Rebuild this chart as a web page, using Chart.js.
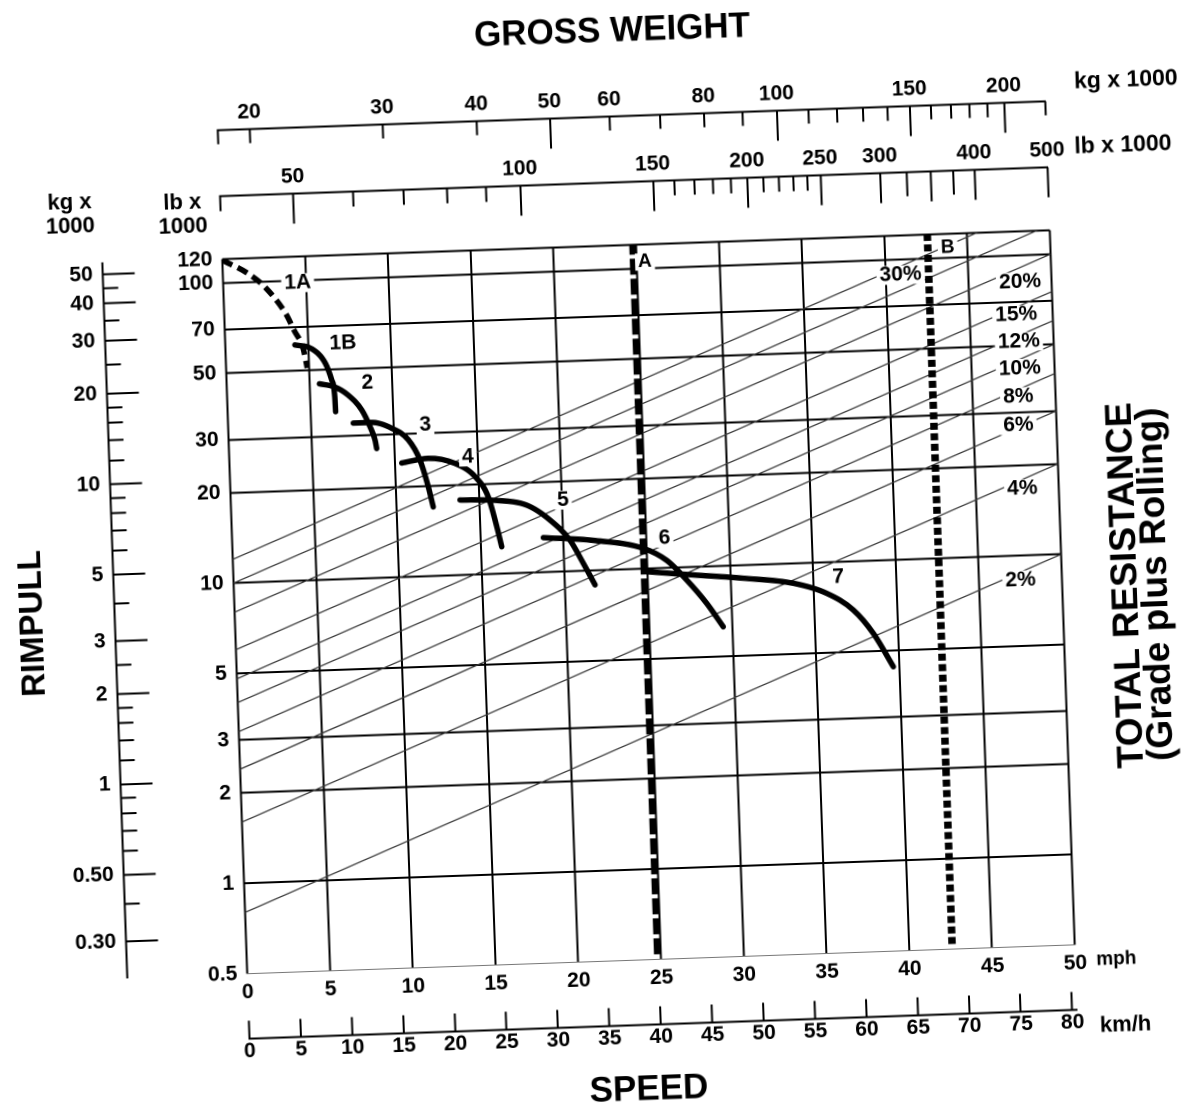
<!DOCTYPE html>
<html><head><meta charset="utf-8">
<script src="https://cdn.jsdelivr.net/npm/chart.js@4/dist/chart.umd.min.js"></script>
<style>
html,body{margin:0;padding:0;background:#fff;overflow:hidden;width:1185px;height:1113px;}
#wrap{position:absolute;left:-40px;top:-40px;width:1280px;height:1200px;transform-origin:688.5px 642px;transform:rotate(-2deg);background:#fff;}
canvas{display:block;}
</style></head><body>
<div id="wrap"><canvas id="c" width="1280" height="1200" style="width:1280px;height:1200px"></canvas></div>
<script>
// ---------- data ----------
const KG_PER_LB = 0.45359237;
const KMH_PER_MPH = 1.609344;

const speedMinMph = 0, speedMaxMph = 50;
const speedTicksMph = [0,5,10,15,20,25,30,35,40,45,50];
const speedTicksKmh = [0,5,10,15,20,25,30,35,40,45,50,55,60,65,70,75,80];

const rimpullMinLb = 0.5, rimpullMaxLb = 120;
const rimpullTicksLb = [0.5,1,2,3,5,10,20,30,50,70,100,120];
const rimpullTicksKg = [0.3,0.5,1,2,3,5,10,20,30,40,50];
const rimpullMinorKg = [0.4,0.6,0.7,0.8,0.9,1.2,1.4,1.6,1.8,2.5,4,6,7,8,9,12,14,16,18,25,35,45];

const weightMinLb = 40, weightMaxLb = 500;
const weightLabelsLb = [50,100,150,200,250,300,400,500];
const weightLongLb = [350];
const weightMidLb = [325,375];
const weightMinorLb = [60,70,80,90,160,170,180,190,210,220,230,240];
const weightLabelsKg = [20,30,40,50,60,80,100,150,200];
const weightLongKg = [50,100,150,200];
const weightMinorKg = [70,90,110,120,130,140,160,170,180,190];

// total resistance lines: rimpull at 0 mph and at 50 mph (lb x 1000)
const resistancePct     = [2,4,6,8,10,12,15,20,25,30];
const resistanceStartLb = [0.8,1.6,2.4,3.2,4,4.8,6,8,10,12];
const resistanceEndLb   = [10,20,30,40,50,60,75,100,125,150];
const resistanceLabels  = ['30%','20%','15%','12%','10%','8%','6%','4%','2%'];
const resistanceLabelSpeed   = [40.9,48.1,47.8,47.9,47.9,47.75,47.7,47.8,47.5];
const resistanceLabelRimpull = [88.7,81.4,63.3,51.5,42.0,33.8,27.2,16.7,8.3];

// rimpull curves per gear: speed (mph) / rimpull (lb x 1000)
const gearNames = ['1A','1B','2','3','4','5','6','7'];
const gear1ASpeed = [0,1.5,2.5,3.7,4.2,4.7,4.9];
const gear1ARimpull = [119,107,96,78,68,59,51];
const gear1BSpeed = [4.2,5.2,6.0,6.35,6.5,6.52];
const gear1BRimpull = [61,59,52.6,46.2,40.6,36.2];
const gear2Speed = [5.6,6.5,7.3,8.1,8.56,8.84,8.92];
const gear2Rimpull = [45,43.8,41,36.4,32,28.8,27];
const gear3Speed = [7.56,8.67,9.87,10.85,11.51,11.95,12.21];
const gear3Rimpull = [33,33,31.4,28.6,24.4,19.9,17];
const gear4Speed = [10.4,12.0,13.6,14.8,15.55,16.0,16.26];
const gear4Rimpull = [24,24.7,23.6,21.2,18.1,14.4,12.3];
const gear5Speed = [13.84,15.85,17.86,19.23,20.39,21.15,21.81];
const gear5Rimpull = [17.8,17.6,16.8,14.9,12.7,10.6,8.96];
const gear6Speed = [18.79,21.8,24.8,26.19,27.35,28.51,29.46];
const gear6Rimpull = [13.05,12.6,11.7,10.6,9.08,7.55,6.28];
const gear7Speed = [24.95,27.76,30.77,33.78,35.77,37.34,38.5,39.64];
const gear7Rimpull = [9.78,9.42,9.06,8.6,7.89,6.9,5.74,4.42];
const gearLabelSpeed   = [4.5,7.1,8.5,11.9,14.4,20.05,26.1,36.5];
const gearLabelRimpull = [98,61,44.7,31.9,24.7,17.3,12.6,8.9];

// vertical speed limits A and B
const limitNames = ['A','B'];
const limitSpeed = [24.8,42.6];
const limitLowLb = [0.52,0.52];
const limitHighLb = [120,120];
const limitLabelSpeed = [25.5,43.8];
const limitLabelRimpull = [105,108];

// ---------- chart ----------
const FONT = '"Liberation Sans", Arial, Helvetica, sans-serif';
Chart.defaults.font.family = FONT;
Chart.defaults.font.weight = 'bold';
Chart.defaults.color = '#000';

const zip = (xs, ys) => xs.map((x, i) => ({x: x, y: ys[i]}));
const setTicks = vals => scale => { scale.ticks = vals.map(v => ({value: v})); };
const tickFont = {size: 21, weight: 'bold'};

const gearSpeeds = [gear1ASpeed,gear1BSpeed,gear2Speed,gear3Speed,gear4Speed,gear5Speed,gear6Speed,gear7Speed];
const gearRimpulls = [gear1ARimpull,gear1BRimpull,gear2Rimpull,gear3Rimpull,gear4Rimpull,gear5Rimpull,gear6Rimpull,gear7Rimpull];

const datasets = [];
resistancePct.forEach((p, i) => datasets.push({
  label: p + '%', data: [{x: speedMinMph, y: resistanceStartLb[i]}, {x: speedMaxMph, y: resistanceEndLb[i]}],
  borderColor: '#383838', borderWidth: 1.25, pointRadius: 0, tension: 0, order: 3
}));
gearNames.forEach((g, i) => datasets.push({
  label: 'Gear ' + g, data: zip(gearSpeeds[i], gearRimpulls[i]),
  borderColor: '#000', borderWidth: 5.5, pointRadius: 0, cubicInterpolationMode: 'monotone',
  borderCapStyle: g === '1A' ? 'butt' : 'round', borderJoinStyle: 'round',
  borderDash: g === '1A' ? [11, 6] : [], order: 2
}));
limitNames.forEach((n, i) => datasets.push({
  label: 'Limit ' + n, data: [{x: limitSpeed[i], y: limitLowLb[i]}, {x: limitSpeed[i], y: limitHighLb[i]}],
  borderColor: '#000', borderWidth: n === 'A' ? 7 : 7.5, pointRadius: 0, borderCapStyle: 'butt',
  borderDash: n === 'A' ? [16, 4] : [7, 3.5], order: 1
}));

function tag(ctx, text, px, py, size) {
  ctx.font = 'bold ' + size + 'px ' + FONT;
  const w = ctx.measureText(text).width;
  ctx.fillStyle = '#fff';
  ctx.fillRect(px - w / 2 - 3, py - size * 0.45, w + 6, size * 0.9);
  ctx.fillStyle = '#000';
  ctx.fillText(text, px, py);
}

const labelPlugin = {
  id: 'labelPlugin',
  afterDatasetsDraw(chart) {
    const {ctx} = chart, x = chart.scales.x, y = chart.scales.y;
    ctx.save();
    ctx.textAlign = 'center'; ctx.textBaseline = 'middle';
    resistanceLabels.forEach((t, i) => tag(ctx, t, x.getPixelForValue(resistanceLabelSpeed[i]), y.getPixelForValue(resistanceLabelRimpull[i]), 21));
    gearNames.forEach((t, i) => tag(ctx, t, x.getPixelForValue(gearLabelSpeed[i]), y.getPixelForValue(gearLabelRimpull[i]), 21));
    limitNames.forEach((t, i) => tag(ctx, t, x.getPixelForValue(limitLabelSpeed[i]), y.getPixelForValue(limitLabelRimpull[i]), 19));
    ctx.restore();
  }
};

const textPlugin = {
  id: 'textPlugin',
  afterDraw(chart) {
    const {ctx, chartArea: ca, scales: S} = chart;
    ctx.save();
    ctx.fillStyle = '#000';
    ctx.textBaseline = 'middle';
    const put = (t, px, py, size, align) => { ctx.font = 'bold ' + size + 'px ' + FONT; ctx.textAlign = align; ctx.fillText(t, px, py); };
    const cx = (ca.left + ca.right) / 2;
    put('GROSS WEIGHT', cx - 16.5, S.kgw.top + 71, 35, 'center');
    put('SPEED', cx - 16.5, ca.bottom + 130.5, 35, 'center');
    put('kg x 1000', ca.right + 29.5, S.kgw.bottom - 18.5, 23, 'left');
    put('lb x 1000', ca.right + 27.5, S.lb.bottom - 19.5, 23, 'left');
    put('mph', ca.right + 21, ca.bottom + 16, 19, 'left');
    put('km/h', ca.right + 22.4, S.kmh.top + 17, 22, 'left');
    put('kg x', S.kg.right - 30.7, ca.top - 61.5, 22, 'center');
    put('1000', S.kg.right - 30.7, ca.top - 37.5, 22, 'center');
    put('lb x', ca.left - 38, ca.top - 57.5, 22, 'center');
    put('1000', ca.left - 38, ca.top - 33.5, 22, 'center');
    const cy = (ca.top + ca.bottom) / 2;
    ctx.textBaseline = 'alphabetic';
    [['TOTAL RESISTANCE', 74.5], ['(Grade plus Rolling)', 104.5]].forEach(([t, dx]) => {
      ctx.save();
      ctx.translate(ca.right + dx, cy);
      ctx.rotate(-Math.PI / 2);
      ctx.font = 'bold 37px ' + FONT; ctx.textAlign = 'center';
      ctx.fillText(t, 0, 0);
      ctx.restore();
    });
    ctx.restore();
  }
};

new Chart(document.getElementById('c'), {
  type: 'line',
  data: {datasets},
  plugins: [labelPlugin, textPlugin],
  options: {
    responsive: false, animation: false, devicePixelRatio: 2, events: [],
    layout: {padding: {left: 0, right: 177.5, top: 0, bottom: 0}},
    plugins: {legend: {display: false}, tooltip: {enabled: false}, title: {display: false}},
    scales: {
      x: {
        type: 'linear', position: 'bottom', min: speedMinMph, max: speedMaxMph, weight: 0,
        afterBuildTicks: setTicks(speedTicksMph),
        ticks: {font: tickFont, padding: 6, autoSkip: false, maxRotation: 0, callback: v => String(v)},
        grid: {color: '#000', lineWidth: 2, drawTicks: false, tickLength: 0},
        border: {display: false},
        afterFit: s => { s.height = 47; }
      },
      kmhTicks: {
        type: 'linear', axis: 'x', position: 'bottom', min: 0, max: speedMaxMph * KMH_PER_MPH, weight: 1,
        afterBuildTicks: setTicks(speedTicksKmh),
        ticks: {display: false},
        grid: {drawOnChartArea: false, drawTicks: true, tickLength: 18, tickWidth: 2, tickColor: '#000'},
        border: {display: false},
        afterFit: s => { s.height = 18; }
      },
      kmh: {
        type: 'linear', axis: 'x', position: 'bottom', min: 0, max: speedMaxMph * KMH_PER_MPH, weight: 2,
        afterBuildTicks: setTicks(speedTicksKmh),
        ticks: {font: tickFont, padding: 0, autoSkip: false, maxRotation: 0, callback: v => String(v)},
        grid: {display: false, drawTicks: false, tickLength: 0},
        border: {display: true, color: '#000', width: 2},
        afterFit: s => { s.height = 135.5; }
      },
      y: {
        type: 'logarithmic', position: 'left', min: rimpullMinLb, max: rimpullMaxLb, weight: 0,
        afterBuildTicks: setTicks(rimpullTicksLb),
        ticks: {font: tickFont, padding: 10, autoSkip: false, callback: v => String(v)},
        grid: {
          color: c => (c.tick && c.tick.value === rimpullMinLb) ? '#777' : '#000',
          lineWidth: c => (c.tick && c.tick.value === rimpullMinLb) ? 1 : 2,
          drawTicks: false, tickLength: 0
        },
        border: {display: false},
        afterFit: s => { s.width = 88; }
      },
      kgTicks: {
        type: 'logarithmic', axis: 'y', position: 'left', min: rimpullMinLb * KG_PER_LB, max: rimpullMaxLb * KG_PER_LB, weight: 1,
        afterBuildTicks: setTicks(rimpullTicksKg.concat(rimpullMinorKg)),
        ticks: {display: false},
        grid: {
          drawOnChartArea: false, drawTicks: true, tickLength: 32, tickWidth: 2, tickColor: '#000',
          tickBorderDash: c => (c.tick && rimpullMinorKg.includes(c.tick.value)) ? [15, 100] : []
        },
        border: {display: false},
        afterFit: s => { s.width = 32; }
      },
      kg: {
        type: 'logarithmic', axis: 'y', position: 'left', min: rimpullMinLb * KG_PER_LB, max: rimpullMaxLb * KG_PER_LB, weight: 2,
        afterBuildTicks: setTicks(rimpullTicksKg),
        ticks: {font: tickFont, padding: 10, autoSkip: false, callback: v => v < 1 ? v.toFixed(2) : String(v)},
        grid: {display: false, drawTicks: false, tickLength: 0},
        border: {display: true, color: '#000', width: 2},
        title: {display: true, text: 'RIMPULL', font: {size: 33, weight: 'bold'}, padding: {top: 53, bottom: 0}},
        afterFit: s => { s.width = 154.5; }
      },
      lbTicks: {
        type: 'logarithmic', axis: 'x', position: 'top', min: weightMinLb, max: weightMaxLb, weight: 0,
        afterBuildTicks: setTicks([weightMinLb].concat(weightLabelsLb, weightLongLb, weightMidLb, weightMinorLb)),
        ticks: {display: false},
        grid: {
          drawOnChartArea: false, drawTicks: true, tickLength: 63, tickWidth: 2, tickColor: '#000',
          tickBorderDash: c => {
            const v = c.tick && c.tick.value;
            if (weightLabelsLb.includes(v) || weightLongLb.includes(v)) return [30, 200];
            if (weightMidLb.includes(v)) return [24, 200];
            return [15, 200];
          }
        },
        border: {display: false},
        afterFit: s => { s.height = 63; }
      },
      lb: {
        type: 'logarithmic', axis: 'x', position: 'top', min: weightMinLb, max: weightMaxLb, weight: 1,
        afterBuildTicks: setTicks(weightLabelsLb),
        ticks: {font: tickFont, padding: 4, autoSkip: false, maxRotation: 0, callback: v => String(v)},
        grid: {display: false, drawTicks: false, tickLength: 0},
        border: {display: true, color: '#000', width: 2},
        afterFit: s => { s.height = 36; }
      },
      kgwTicks: {
        type: 'logarithmic', axis: 'x', position: 'top', min: weightMinLb * KG_PER_LB, max: weightMaxLb * KG_PER_LB, weight: 2,
        afterBuildTicks: setTicks([weightMinLb * KG_PER_LB].concat(weightLabelsKg, weightMinorKg, [weightMaxLb * KG_PER_LB])),
        ticks: {display: false},
        grid: {
          drawOnChartArea: false, drawTicks: true, tickLength: 30, tickWidth: 2, tickColor: '#000',
          tickBorderDash: c => (c.tick && weightLongKg.includes(c.tick.value)) ? [] : [14, 100]
        },
        border: {display: false},
        afterFit: s => { s.height = 30; }
      },
      kgw: {
        type: 'logarithmic', axis: 'x', position: 'top', min: weightMinLb * KG_PER_LB, max: weightMaxLb * KG_PER_LB, weight: 3,
        afterBuildTicks: setTicks(weightLabelsKg),
        ticks: {font: tickFont, padding: 4, autoSkip: false, maxRotation: 0, callback: v => String(v)},
        grid: {display: false, drawTicks: false, tickLength: 0},
        border: {display: true, color: '#000', width: 2},
        afterFit: s => { s.height = 155.5; }
      }
    }
  }
});
</script></body></html>
